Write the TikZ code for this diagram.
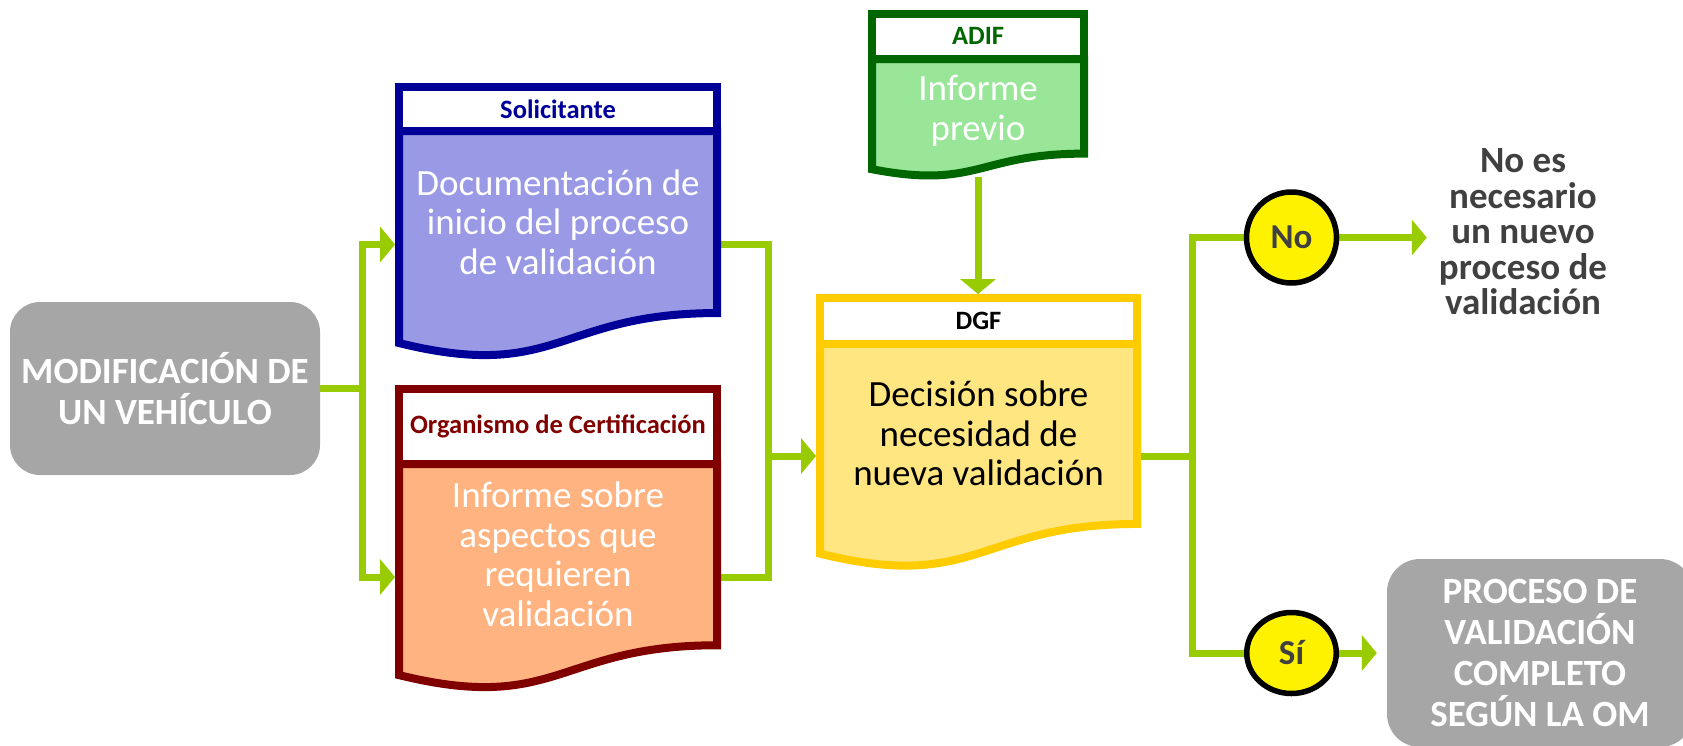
\documentclass[tikz,border=0pt]{standalone}
\usepackage{fontspec}
\setmainfont{Carlito}
\usetikzlibrary{positioning,calc,arrows.meta,shapes.geometric,backgrounds}

\definecolor{linkgreen}{HTML}{99CC00}
\definecolor{boxgrey}{HTML}{A6A6A6}
\definecolor{textgrey}{HTML}{404040}
\definecolor{solline}{HTML}{000099}
\definecolor{solfill}{HTML}{9999E6}
\definecolor{orgline}{HTML}{800000}
\definecolor{orgfill}{HTML}{FFB380}
\definecolor{adifline}{HTML}{006600}
\definecolor{adiffill}{HTML}{99E699}
\definecolor{dgfline}{HTML}{FFCC00}
\definecolor{dgffill}{HTML}{FFE680}

% document shape with wavy bottom, drawn on an empty node
\newcommand{\docshape}[3]{%
  \draw[line width=8pt, draw=#2, fill=#3]
    (#1.north west) -- (#1.north east) -- ($(#1.north east)!0.802!(#1.south east)$)
    .. controls ($(#1.north)!0.802!(#1.south)$) and ($(#1.north)!1.107!(#1.south)$)
    .. ($(#1.north west)!0.934!(#1.south west)$) -- cycle;}

\begin{document}
\begin{tikzpicture}[
    x=1pt, y=-1pt,
    docbody/.style={rectangle, inner sep=0pt, outer sep=0pt},
    head/.style={rectangle, draw, fill=white, line width=8pt, inner sep=0pt, outer sep=0pt, font=\fontsize{26.5}{30}\selectfont\bfseries},
    bodytext/.style={align=center, inner sep=0pt, font=\fontsize{37}{39.5}\selectfont},
    greybox/.style={rectangle, rounded corners=30pt, fill=boxgrey, text=white, align=center, inner sep=0pt, font=\fontsize{37}{41}\selectfont\bfseries},
    answer/.style={ellipse, draw=black, line width=5.5pt, fill=yellow, text=textgrey, inner sep=0pt, font=\fontsize{35}{40}\selectfont\bfseries},
    link/.style={draw=linkgreen, line width=7pt},
    arrow/.style={link, -{Triangle[length=15pt, width=36pt, line width=0pt]}}
]
\useasboundingbox (0,0) rectangle (1683,745);

% Start
\node[greybox, minimum width=310pt, minimum height=173pt] (mod) at (165,388.5) {MODIFICACIÓN DE\\UN VEHÍCULO};

% Solicitante
\node[docbody, minimum width=318pt, minimum height=227pt] (solbody) at (558,244.5) {};
\docshape{solbody}{solline}{solfill}
\node[head, draw=solline, text=solline, minimum width=318pt, minimum height=44pt, above=0pt of solbody] (solhead) {Solicitante};
\node[bodytext, text=white] (soltxt) at ($(solbody.north)!0.4!(solbody.south)$) {Documentación de\\inicio del proceso\\de validación};

% Organismo de Certificacion
\node[docbody, minimum width=318pt, minimum height=226pt] (orgbody) at (558,577) {};
\docshape{orgbody}{orgline}{orgfill}
\node[head, draw=orgline, text=orgline, minimum width=318pt, minimum height=75pt, above=0pt of orgbody] (orghead) {Organismo de Certificación};
\node[bodytext, text=white] (orgtxt) at ($(orgbody.north)!0.4!(orgbody.south)$) {Informe sobre\\aspectos que\\requieren\\validación};

% ADIF
\node[docbody, minimum width=212pt, minimum height=118pt] (adifbody) at (978,118) {};
\docshape{adifbody}{adifline}{adiffill}
\node[head, draw=adifline, text=adifline, minimum width=212pt, minimum height=45.5pt, above=0pt of adifbody] (adifhead) {ADIF};
\node[bodytext, text=white] (adiftxt) at ($(adifbody.north)!0.44!(adifbody.south)$) {Informe\\previo};

% DGF
\node[docbody, minimum width=317pt, minimum height=225pt] (dgfbody) at (978.5,456) {};
\docshape{dgfbody}{dgfline}{dgffill}
\node[head, draw=dgfline, text=black, minimum width=317pt, minimum height=45.5pt, above=0pt of dgfbody] (dgfhead) {DGF};
\node[bodytext, text=black] (dgftxt) at ($(dgfbody.north)!0.4!(dgfbody.south)$) {Decisión sobre\\necesidad de\\nueva validación};

% Answers
\node[answer, minimum width=90pt, minimum height=91pt] (no) at (1291.5,237.5) {No};
\node[answer, minimum width=89.5pt, minimum height=81pt] (si) at (1291.5,653) {Sí};
\node[align=center, inner xsep=12pt, inner ysep=0pt, text=textgrey, font=\fontsize{37}{35.5}\selectfont\bfseries] (nomsg) at (1523,232) {No es\\necesario\\un nuevo\\proceso de\\validación};
\node[greybox, minimum width=306pt, minimum height=188pt, rounded corners=33pt] (full) at (1540,653) {PROCESO DE\\VALIDACIÓN\\COMPLETO\\SEGÚN LA OM};

% Fork points
\coordinate[right=42pt of mod.east] (forkL);
\coordinate[left=52pt of dgfbody.west] (forkR);
\coordinate[right=55pt of dgfbody.east] (forkD);

% Connectors
\begin{scope}[on background layer]
\draw[link] (mod.east) -- (forkL);
\draw[arrow, shorten >=4pt] (forkL) |- (solbody.west);
\draw[arrow, shorten >=4pt] (forkL) |- (orgbody.west);
\draw[link] (solbody.east) -| (forkR);
\draw[link] (orgbody.east) -| (forkR);
\draw[arrow, shorten >=4pt] (forkR) -- (dgfbody.west);
\draw[arrow, shorten >=4pt] (adifbody.south) -- (adifbody.south |- dgfhead.north);
\draw[link] (dgfbody.east) -- (forkD);
\draw[link] (forkD) |- (no);
\draw[link] (forkD) |- (si);
\draw[arrow] (no) -- (no -| nomsg.west);
\draw[arrow, shorten >=10pt] (si) -- (si -| full.west);
\end{scope}

\end{tikzpicture}
\end{document}
